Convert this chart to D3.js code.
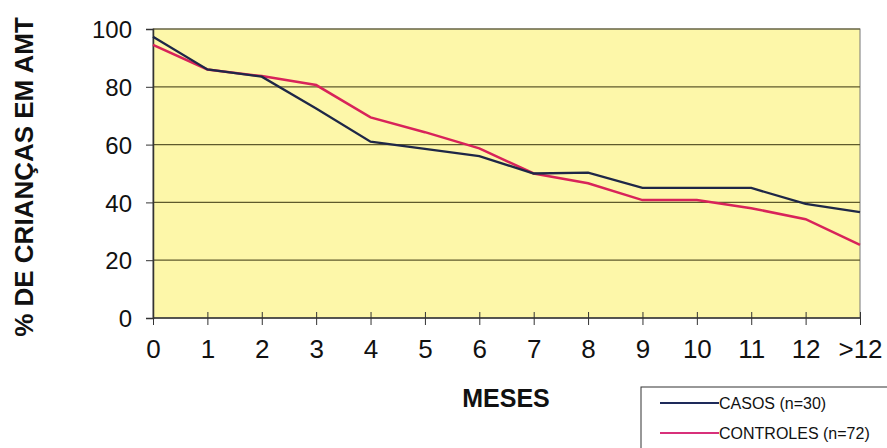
<!DOCTYPE html>
<html><head><meta charset="utf-8">
<script src="https://cdn.jsdelivr.net/npm/d3@7"></script>
<style>body{margin:0;background:#fff}svg{display:block}</style>
</head><body><svg id="c" width="887" height="448"></svg>
<script>
const categories = ["0","1","2","3","4","5","6","7","8","9","10","11","12",">12"];
const casos = [97.3, 86, 83.5, 72.5, 61, 58.5, 56, 50, 50.3, 45, 45, 45, 39.5, 36.6];
const controles = [94.5, 86, 83.7, 80.6, 69.4, 64.3, 58.7, 50, 46.6, 40.8, 40.8, 38, 34.2, 25.3];
const yTicks = [0, 20, 40, 60, 80, 100];
const seriesNames = ["CASOS (n=30)", "CONTROLES (n=72)"];

const FONT = "Arial, 'Liberation Sans', sans-serif";
const svg = d3.select("#c");
const L = 153, R = 860, T = 29, B = 318;
const x = d3.scalePoint().domain(categories).range([L, R]);
const y = d3.scaleLinear().domain([0, 100]).range([B, T]);

svg.append("rect").attr("x", L).attr("y", T).attr("width", R - L).attr("height", B - T)
  .attr("fill", "#fdf7a9").attr("stroke", "#777").attr("stroke-width", 1);

// gridlines
svg.append("g").selectAll("line").data(yTicks.filter(d => d > 0)).join("line")
  .attr("x1", L).attr("x2", R).attr("y1", d => y(d)).attr("y2", d => y(d))
  .attr("stroke", "#5e5a2c").attr("stroke-width", 1.2);

// y axis
const ya = svg.append("g").attr("transform", `translate(${L},0)`)
  .call(d3.axisLeft(y).tickValues(yTicks).tickSize(7).tickPadding(14));
ya.select(".domain").attr("stroke", "#333").attr("stroke-width", 1.5);
ya.selectAll(".tick line").attr("stroke", "#333");
ya.selectAll("text").attr("font-family", FONT)
  .attr("font-size", 24).attr("fill", "#111").attr("dy", "0.36em");

// x axis
const xa = svg.append("g").attr("transform", `translate(0,${B})`)
  .call(d3.axisBottom(x).tickSize(7).tickPadding(15));
xa.select(".domain").attr("stroke", "#333").attr("stroke-width", 1.5).attr("d", `M${L},0H${R}`);
xa.selectAll(".tick line").attr("stroke", "#333").attr("y1", -6).attr("y2", 7);
xa.selectAll("text").attr("font-family", FONT)
  .attr("font-size", 26).attr("fill", "#111");

// lines
const line = d3.line().x((d, i) => x(categories[i])).y(d => y(d));
svg.append("path").datum(controles).attr("d", line).attr("fill", "none")
  .attr("stroke", "#d8235a").attr("stroke-width", 2.5);
svg.append("path").datum(casos).attr("d", line).attr("fill", "none")
  .attr("stroke", "#1e2747").attr("stroke-width", 2.3);

// titles
svg.append("text").attr("transform", "translate(33,177) rotate(-90)")
  .attr("text-anchor", "middle").attr("font-family", FONT)
  .attr("font-weight", "bold").attr("font-size", 26).attr("fill", "#111")
  .text("% DE CRIANÇAS EM AMT");
svg.append("text").attr("x", 506).attr("y", 407).attr("text-anchor", "middle")
  .attr("font-family", FONT)
  .attr("font-weight", "bold").attr("font-size", 25).attr("fill", "#111").text("MESES");

// legend
const lg = svg.append("g");
lg.append("rect").attr("x", 641).attr("y", 387).attr("width", 260).attr("height", 70)
  .attr("fill", "#fff").attr("stroke", "#333").attr("stroke-width", 1);
const colors = ["#1e2a5a", "#d8307a"];
seriesNames.forEach((n, i) => {
  const yy = 403 + i * 30;
  lg.append("line").attr("x1", 660).attr("x2", 719).attr("y1", yy).attr("y2", yy)
    .attr("stroke", colors[i]).attr("stroke-width", 2);
  lg.append("text").attr("x", 719).attr("y", yy + 6).attr("font-family", FONT)
    .attr("font-size", 16).attr("fill", "#111").text(n);
});
</script></body></html>
